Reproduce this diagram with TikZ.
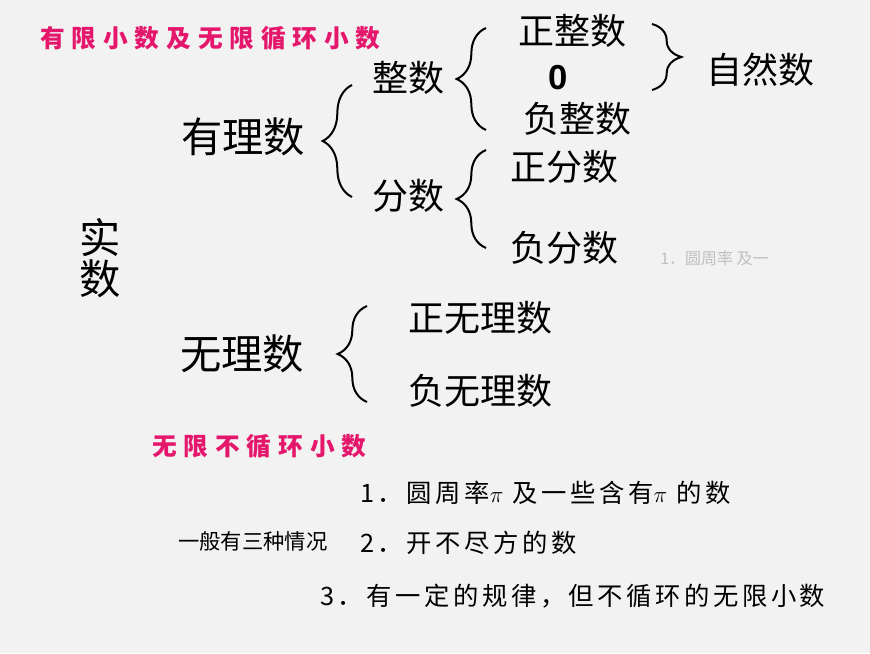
\documentclass[tikz,border=0pt]{standalone}
\usepackage{fontspec}
\setmainfont{Liberation Serif}
\newfontfamily\cjk{Noto Sans CJK SC}
\newfontfamily\cjksp[LetterSpace=28]{Noto Sans CJK SC}
\newfontfamily\cjkbt[LetterSpace=14]{Noto Sans CJK SC}
\usetikzlibrary{decorations.pathreplacing}
\definecolor{bg}{HTML}{F2F2F2}
\definecolor{pinkc}{HTML}{E5176C}
\begin{document}
\begin{tikzpicture}[x=0.75pt,y=-0.75pt,
  big/.style={font=\cjk\fontsize{31}{33}\selectfont,inner sep=0pt},
  mid/.style={font=\cjk\fontsize{27}{29}\selectfont,inner sep=0pt},
  pk/.style={font=\cjksp\bfseries\fontsize{18.5}{20}\selectfont,text=pinkc,inner sep=0pt},
  sm/.style={font=\cjkbt\fontsize{19}{21}\selectfont,inner sep=0pt},
  br/.style={decorate,decoration={brace,amplitude=22pt},line width=1.5pt}]
\fill[bg] (0,0) rectangle (870,653);
\useasboundingbox (0,0) rectangle (870,653);
\node[pk,anchor=west] (t1) at (40,38) {有限小数及无限循环小数};
\node[big] (shi1) at (100,238) {实};
\node[big] (shi2) at (100,279) {数};
\node[big] (youli) at (243,137) {有理数};
\node[mid] (zhengshu) at (408,78) {整数};
\node[mid] (fenshu) at (408,196) {分数};
\node[mid] (zzs) at (572,31) {正整数};
\node[font=\fontspec{Liberation Sans}\bfseries\fontsize{26}{28}\selectfont,inner sep=0pt] (zero) at (558,78) {0};
\node[mid] (fzs) at (577,119) {负整数};
\node[mid] (zfs) at (564,167) {正分数};
\node[mid] (ffs) at (564,248) {负分数};
\node[mid] (zrs) at (760,70) {自然数};
\node[font=\cjk\fontsize{12}{13}\selectfont,text=black!25,inner sep=0pt,anchor=west] (ghost) at (660,258) {1．圆周率 及一};
\node[big] (wuli) at (242,354) {无理数};
\node[mid] (zwl) at (480,318) {正无理数};
\node[mid] (fwl) at (480,391) {负无理数};
\node[pk,anchor=west] (t2) at (152,446) {无限不循环小数};
\node[sm,anchor=west] (a1) at (360,493) {1．圆周率$\pi$ 及一些含有$\pi$ 的数};
\node[anchor=west,inner sep=0pt,font=\cjk\fontsize{16}{18}\selectfont] (lab) at (178,541) {一般有三种情况};
\node[sm,anchor=west] (a2) at (360,543) {2．开不尽方的数};
\node[sm,anchor=west] (a3) at (320,596) {3．有一定的规律，但不循环的无限小数};
\draw[br] (352,197) -- (352,85);
\draw[br] (486,130) -- (486,28);
\draw[br] (486,248) -- (486,150);
\draw[br] (367,402) -- (367,306);
\draw[br] (652,24) -- (652,90);
\end{tikzpicture}
\end{document}
